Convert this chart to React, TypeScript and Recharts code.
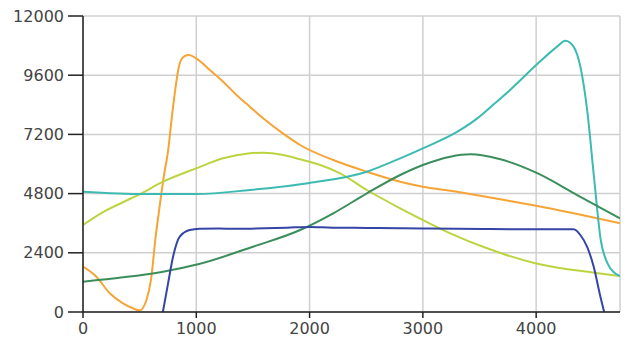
import { LineChart, Line, XAxis, YAxis, CartesianGrid } from "recharts";

const xTicks = [0, 1000, 2000, 3000, 4000];
const yTicks = [0, 2400, 4800, 7200, 9600, 12000];

const orangeX = [0, 118, 236, 353, 440, 500, 560, 600, 640, 680, 710, 750, 795, 854, 900, 936, 1000, 1119, 1237, 1355, 1472, 1590, 1767, 1920, 2209, 2506, 2800, 3000, 3242, 3684, 4000, 4740];
const orangeY = [1838, 1432, 757, 351, 150, 60, 486, 1300, 3000, 4400, 5400, 6500, 8324, 10081, 10380, 10420, 10280, 9811, 9337, 8797, 8324, 7851, 7230, 6760, 6162, 5688, 5283, 5080, 4918, 4568, 4310, 3600];

const limeX = [0, 177, 353, 512, 707, 1000, 1237, 1472, 1590, 1767, 1917, 2094, 2270, 2506, 2800, 3000, 3242, 3566, 4000, 4500, 4740];
const limeY = [3527, 4050, 4450, 4800, 5283, 5824, 6230, 6432, 6460, 6365, 6190, 5959, 5622, 4946, 4203, 3730, 3190, 2582, 1970, 1600, 1460];

const tealX = [0, 530, 1000, 1472, 2000, 2506, 2800, 3000, 3301, 3480, 3620, 3770, 4000, 4185, 4258, 4330, 4390, 4450, 4510, 4570, 4630, 4690, 4740];
const tealY = [4878, 4784, 4784, 4946, 5230, 5688, 6230, 6635, 7300, 7851, 8400, 9000, 10010, 10760, 11000, 10760, 9950, 8190, 5490, 2920, 1970, 1590, 1460];

const greenX = [0, 353, 707, 1015, 1500, 1917, 2209, 2506, 2800, 3000, 3242, 3419, 3684, 4000, 4362, 4740];
const greenY = [1230, 1405, 1635, 1932, 2647, 3324, 4000, 4811, 5554, 5959, 6297, 6392, 6190, 5648, 4743, 3797];

const blueX = [705, 751, 795, 854, 942, 1030, 1200, 1400, 1600, 1800, 2000, 2200, 2500, 2800, 3000, 3300, 3600, 4000, 4330, 4390, 4449, 4508, 4567, 4600];
const blueY = [0, 1162, 2243, 3054, 3324, 3378, 3390, 3370, 3400, 3420, 3450, 3420, 3410, 3400, 3390, 3370, 3360, 3350, 3350, 3122, 2647, 1838, 622, 0];

const toPoints = (xs: number[], ys: number[]) => xs.map((x, i) => ({ x, y: ys[i] }));

const series = [
  { name: "orange", color: "#f6a436", data: toPoints(orangeX, orangeY) },
  { name: "lime", color: "#bdd440", data: toPoints(limeX, limeY) },
  { name: "teal", color: "#3dbbb2", data: toPoints(tealX, tealY) },
  { name: "green", color: "#3b8e5c", data: toPoints(greenX, greenY) },
  { name: "blue", color: "#3545a6", data: toPoints(blueX, blueY) },
];

const font = "'DejaVu Sans', sans-serif";
const tickStyle = { fontSize: 16, fill: "#444", fontFamily: font };

export default function App() {
  return (
    <div style={{ position: "absolute", left: 0, top: 0, background: "#fff", fontFamily: font }}>
      <LineChart width={629} height={340} margin={{ top: 16, right: 9, bottom: 0, left: 0 }}>
        <CartesianGrid stroke="#cfcfcf" strokeWidth={1.5} />
        <XAxis
          type="number"
          dataKey="x"
          domain={[0, 4740]}
          ticks={xTicks}
          allowDataOverflow
          height={28}
          tickSize={6}
          tickMargin={5}
          tick={tickStyle}
          stroke="#222"
          strokeWidth={1.5}
        />
        <YAxis
          type="number"
          dataKey="y"
          domain={[0, 12000]}
          ticks={yTicks}
          allowDataOverflow
          width={83}
          tickSize={15}
          tickMargin={4}
          tick={tickStyle}
          stroke="#222"
          strokeWidth={1.5}
        />
        {series.map((s) => (
          <Line
            key={s.name}
            data={s.data}
            dataKey="y"
            type="monotone"
            stroke={s.color}
            strokeWidth={2}
            dot={false}
            activeDot={false}
            isAnimationActive={false}
          />
        ))}
      </LineChart>
    </div>
  );
}
